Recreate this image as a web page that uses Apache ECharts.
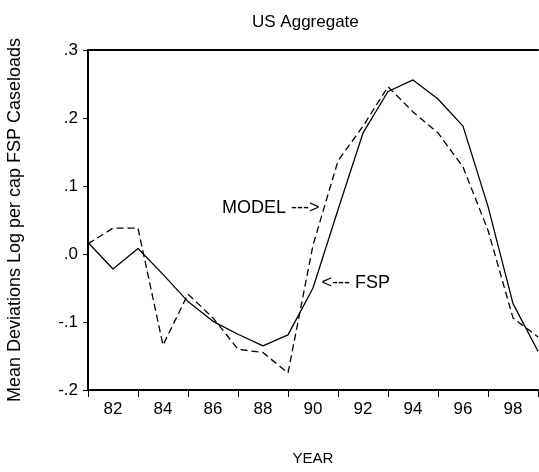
<!DOCTYPE html>
<html>
<head>
<meta charset="utf-8">
<script src="https://cdn.jsdelivr.net/npm/echarts@6/dist/echarts.min.js"></script>
<style>
html,body{margin:0;padding:0;background:#fff;}
#chart{width:539px;height:472px;}
</style>
</head>
<body>
<div id="chart"></div>
<script>
var years = [81,82,83,84,85,86,87,88,89,90,91,92,93,94,95,96,97,98,99];
var fsp   = [0.017,-0.022,0.008,-0.030,-0.070,-0.099,-0.118,-0.135,-0.119,-0.050,0.065,0.178,0.239,0.256,0.228,0.188,0.070,-0.073,-0.143];
var model = [0.015,0.038,0.038,-0.134,-0.059,-0.094,-0.140,-0.145,-0.175,0.013,0.137,0.188,0.246,0.209,0.178,0.128,0.035,-0.094,-0.122];
var tickYears  = [81,83,85,87,89,91,93,95,97,99];
var labelYears = [82,84,86,88,90,92,94,96,98];
var titleText = 'US Aggregate';
var xName = 'YEAR';
var yName = 'Mean Deviations Log per cap FSP Caseloads';
var modelNote = {text:'MODEL --->', year:90.3, value:0.068};
var fspNote = {text:'<--- FSP', year:90.3, value:-0.043};

var FONT = 'Liberation Sans, Arial, sans-serif';
function pairs(v){ return years.map(function(y,i){ return [y, v[i]]; }); }
function fmtY(v){
  var s = (Math.round(v*10)/10).toFixed(1);
  if (s === '-0.0') s = '0.0';
  return s.replace('0.', '.');
}
function note(n, pos){
  return {symbol:'circle', symbolSize:0, silent:true,
    itemStyle:{color:'rgba(0,0,0,0)'},
    data:[{coord:[n.year, n.value],
      label:{show:true, formatter:n.text, position:pos, distance:1,
        fontFamily:FONT, fontSize:18, color:'#000'}}]};
}
var chart = echarts.init(document.getElementById('chart'), null, {renderer:'canvas'});
chart.setOption({
  animation:false,
  backgroundColor:'#fff',
  title:{text:titleText, left:247, top:9,
    textStyle:{fontFamily:FONT, fontSize:17, fontWeight:'normal', color:'#000'}},
  grid:{left:88, right:1, top:50, bottom:82, containLabel:false, outerBoundsMode:'none'},
  xAxis:[{
    type:'value', min:81, max:99, position:'bottom',
    name:xName, nameLocation:'middle', nameGap:61,
    nameTextStyle:{fontFamily:FONT, fontSize:15, color:'#000'},
    axisLine:{show:true, onZero:false, lineStyle:{color:'#000', width:2}},
    axisTick:{show:true, inside:false, length:7, customValues:tickYears, lineStyle:{color:'#000', width:1}},
    axisLabel:{show:true, customValues:labelYears, margin:11, fontFamily:FONT, fontSize:17, color:'#000'},
    splitLine:{show:false}
  },{
    type:'value', min:81, max:99, position:'top',
    axisLine:{show:true, onZero:false, lineStyle:{color:'#000', width:2}},
    axisTick:{show:false}, axisLabel:{show:false}, splitLine:{show:false}
  }],
  yAxis:{
    type:'value', min:-0.2, max:0.3, interval:0.1,
    name:yName, nameLocation:'middle', nameGap:64, nameRotate:90,
    nameTextStyle:{fontFamily:FONT, fontSize:18, color:'#000'},
    axisLine:{show:true, onZero:false, lineStyle:{color:'#000', width:2}},
    axisTick:{show:true, inside:false, length:5, lineStyle:{color:'#000', width:1}},
    axisLabel:{margin:10, fontFamily:FONT, fontSize:17, color:'#000', formatter:fmtY},
    splitLine:{show:false}
  },
  series:[{
    name:'FSP', type:'line', data:pairs(fsp), symbol:'none',
    lineStyle:{color:'#000', width:1.3, type:'solid'},
    markPoint:note(fspNote, 'right')
  },{
    name:'MODEL', type:'line', data:pairs(model), symbol:'none',
    lineStyle:{color:'#000', width:1.3, type:[7,4]},
    markPoint:note(modelNote, 'left')
  }]
});
</script>
</body>
</html>
